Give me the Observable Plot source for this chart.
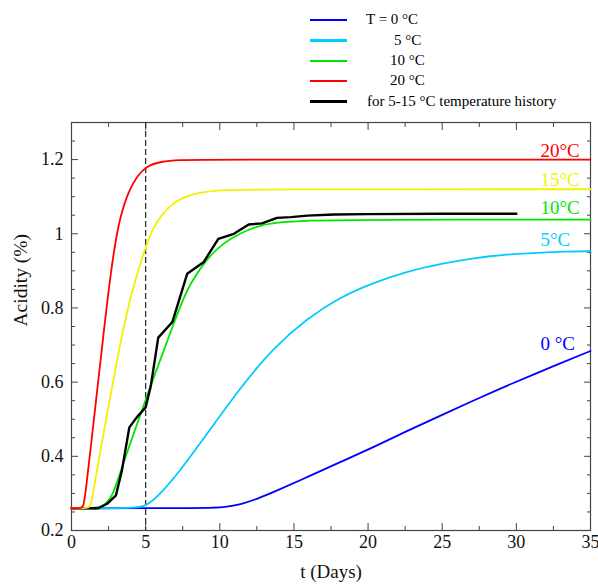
<!DOCTYPE html>
<html>
<head>
<meta charset="utf-8">
<script src="https://cdn.jsdelivr.net/npm/d3@7"></script>
<script src="https://cdn.jsdelivr.net/npm/@observablehq/plot@0.6"></script>
<style>
  body { margin: 0; background: #fff; }
  #wrap { width: 598px; height: 584px; position: relative; font-family: 'Liberation Serif', 'Times New Roman', serif; background: #fff; }
  #legend { position: relative; width: 598px; height: 112px; }
  .lg-line { position: absolute; left: 310px; width: 37px; height: 2.5px; }
  .lg-text { position: absolute; font-size: 15px; line-height: 16px; color: #000; white-space: nowrap; }
  #chart svg { display: block; }
</style>
</head>
<body>
<div id="wrap">
  <div id="legend"></div>
  <div id="chart"></div>
</div>
<script>
// ---------- data ----------
// T = 0 °C
const days0  = [0, 9.5, 10.3, 11.4, 12.5, 13.6, 15.9, 18.1, 20.4, 22.6, 24.9, 27.35, 29.8, 32.5, 35];
const acid0  = [0.26, 0.26, 0.263, 0.27, 0.285, 0.303, 0.344, 0.384, 0.425, 0.468, 0.51, 0.555, 0.598, 0.643, 0.684];
// T = 5 °C
const days5  = [0, 4.4, 5.1, 6.0, 7.35, 9.15, 11.4, 13.6, 15.9, 18.1, 20.4, 22.6, 24.9, 27, 29.2, 31.4, 33.5, 35];
const acid5  = [0.26, 0.26, 0.267, 0.299, 0.362, 0.461, 0.586, 0.692, 0.772, 0.829, 0.869, 0.898, 0.919, 0.934, 0.944, 0.949, 0.952, 0.953];
// T = 10 °C
const days10 = [0, 1.8, 2.3, 2.85, 3.3, 4.45, 5.15, 6.45, 7.0, 7.6, 8.0, 9.15, 10.3, 11.4, 12.5, 13.6, 15.9, 20, 35];
const acid10 = [0.26, 0.26, 0.27, 0.30, 0.36, 0.49, 0.57, 0.71, 0.77, 0.83, 0.865, 0.935, 0.977, 1.002, 1.02, 1.03, 1.036, 1.038, 1.038];
// T = 15 °C
const days15 = [0, 1.15, 1.3, 1.5, 1.75, 2.4, 3.1, 3.5, 3.9, 4.2, 4.6, 5.1, 5.5, 6.0, 6.7, 7.4, 8.5, 10, 12, 35];
const acid15 = [0.26, 0.26, 0.267, 0.31, 0.37, 0.515, 0.665, 0.745, 0.815, 0.86, 0.915, 0.975, 1.015, 1.047, 1.078, 1.096, 1.111, 1.118, 1.12, 1.12];
// T = 20 °C
const days20 = [0, 0.7, 0.8, 0.95, 1.4, 1.85, 2.15, 2.4, 2.85, 3.3, 3.85, 4.45, 5.05, 6.0, 7.3, 9, 35];
const acid20 = [0.26, 0.26, 0.265, 0.3, 0.46, 0.62, 0.725, 0.815, 0.955, 1.05, 1.115, 1.157, 1.182, 1.195, 1.199, 1.2, 1.2];
// 5-15 °C temperature history
const daysHist = [0, 1.8, 2.4, 3.0, 3.4, 3.9, 4.4, 5.0, 5.35, 5.85, 6.8, 7.8, 8.9, 9.9, 10.95, 11.95, 12.85, 13.85, 14.8, 15.9, 17.7, 20, 25, 30];
const acidHist = [0.26, 0.26, 0.272, 0.295, 0.362, 0.478, 0.505, 0.532, 0.59, 0.72, 0.762, 0.892, 0.923, 0.986, 1.0, 1.025, 1.028, 1.043, 1.045, 1.049, 1.052, 1.053, 1.054, 1.054];

const guideDay = [5];

const xTicks = [0, 5, 10, 15, 20, 25, 30, 35];
const xMinorTicks = [2.5, 7.5, 12.5, 17.5, 22.5, 27.5, 32.5];
const yTicks = [0.2, 0.4, 0.6, 0.8, 1, 1.2];
const yTickLabels = ["0.2", "0.4", "0.6", "0.8", "1", "1.2"];
const yMinorTicks = [0.25, 0.3, 0.35, 0.45, 0.5, 0.55, 0.65, 0.7, 0.75, 0.85, 0.9, 0.95, 1.05, 1.1, 1.15, 1.25];

const curveLabels = ["0 °C", "5°C", "10°C", "15°C", "20°C"];
const legendLabels = ["T = 0 °C", "5 °C", "10 °C", "20 °C", "for 5-15 °C temperature history"];

// ---------- styling ----------
const colors = {c0: "#0000ff", c5: "#00ccff", c10: "#00e600", c15: "#f2f200", c20: "#ff0000", hist: "#000000"};
const labelDy = [-7, -11, -12, -9, -9];

const toRows = (t, v) => t.map((d, i) => ({t: d, v: v[i]}));
const series = [
  {rows: toRows(days0, acid0), color: colors.c0, label: curveLabels[0], dy: labelDy[0]},
  {rows: toRows(days5, acid5), color: colors.c5, label: curveLabels[1], dy: labelDy[1]},
  {rows: toRows(days10, acid10), color: colors.c10, label: curveLabels[2], dy: labelDy[2]},
  {rows: toRows(days15, acid15), color: colors.c15, label: curveLabels[3], dy: labelDy[3]},
  {rows: toRows(days20, acid20), color: colors.c20, label: curveLabels[4], dy: labelDy[4]}
];
const histRows = toRows(daysHist, acidHist);

// ---------- legend (HTML above the SVG) ----------
const legendColors = [colors.c0, colors.c5, colors.c10, colors.c20, colors.hist];
const legendY = [20, 40.5, 61, 81, 101.5];
const legendTextX = [366, 394, 390, 390, 367];
const legend = document.getElementById("legend");
legendLabels.forEach((lab, i) => {
  const ln = document.createElement("div");
  ln.className = "lg-line";
  ln.style.top = (legendY[i] - 1.25) + "px";
  ln.style.background = legendColors[i];
  legend.appendChild(ln);
  const tx = document.createElement("div");
  tx.className = "lg-text";
  tx.style.left = legendTextX[i] + "px";
  tx.style.top = (legendY[i] - 9) + "px";
  tx.textContent = lab;
  legend.appendChild(tx);
});

// ---------- chart ----------
const tickColor = "#444";
const marks = [
  Plot.frame({stroke: tickColor, strokeWidth: 1.2}),
  // tick labels
  Plot.axisX({ticks: xTicks, tickSize: 0, tickPadding: 5, tickFormat: d => String(d), label: null, fontSize: 18, fill: "#111"}),
  Plot.axisY({ticks: yTicks, tickSize: 0, tickPadding: 8, tickFormat: d => yTickLabels[yTicks.indexOf(d)], label: null, fontSize: 18, fill: "#111"}),
  // inward ticks on all four sides
  Plot.axisX({ticks: xTicks, anchor: "bottom", tickSize: -7, fill: "none", label: null, stroke: tickColor}),
  Plot.axisX({ticks: xTicks, anchor: "top", tickSize: -7, fill: "none", label: null, stroke: tickColor}),
  Plot.axisX({ticks: xMinorTicks, anchor: "bottom", tickSize: -4, fill: "none", label: null, stroke: tickColor}),
  Plot.axisX({ticks: xMinorTicks, anchor: "top", tickSize: -4, fill: "none", label: null, stroke: tickColor}),
  Plot.axisY({ticks: yTicks, anchor: "left", tickSize: -7, fill: "none", label: null, stroke: tickColor}),
  Plot.axisY({ticks: yTicks, anchor: "right", tickSize: -7, fill: "none", label: null, stroke: tickColor}),
  Plot.axisY({ticks: yMinorTicks, anchor: "left", tickSize: -4, fill: "none", label: null, stroke: tickColor}),
  Plot.axisY({ticks: yMinorTicks, anchor: "right", tickSize: -4, fill: "none", label: null, stroke: tickColor}),
  // axis titles
  Plot.text(["t (Days)"], {frameAnchor: "bottom", dy: 41, text: d => d, fontSize: 19, fill: "#111", lineAnchor: "middle"}),
  Plot.text(["Acidity (%)"], {frameAnchor: "left", dx: -51, rotate: -90, text: d => d, fontSize: 19.5, fill: "#111", lineAnchor: "middle"}),
  // vertical guide at day 5
  Plot.ruleX(guideDay, {stroke: "#333", strokeWidth: 1.3, strokeDasharray: "6,3"})
];
// curves, drawn so the hotter curves sit on top of the shared baseline
[0, 1, 2].forEach(i => marks.push(Plot.line(series[i].rows, {x: "t", y: "v", stroke: series[i].color, strokeWidth: 1.8, curve: "basis"})));
marks.push(Plot.line(histRows, {x: "t", y: "v", stroke: colors.hist, strokeWidth: 2.4, curve: "linear", strokeLinejoin: "round"}));
[3, 4].forEach(i => marks.push(Plot.line(series[i].rows, {x: "t", y: "v", stroke: series[i].color, strokeWidth: 1.8, curve: "basis"})));
// end-of-curve labels
series.forEach(s => {
  const last = s.rows[s.rows.length - 1];
  marks.push(Plot.text([last], {x: "t", y: "v", text: () => s.label, fill: s.color, fontSize: 19, textAnchor: "start", dx: -50, dy: s.dy, lineAnchor: "middle"}));
});

const chart = Plot.plot({
  width: 598,
  height: 472,
  marginTop: 10,
  marginBottom: 54,
  marginLeft: 71,
  marginRight: 8,
  style: {fontFamily: "'Liberation Serif', 'Times New Roman', serif", fontSize: "18px", background: "#fff", color: "#111"},
  x: {domain: [0, 35]},
  y: {domain: [0.2, 1.3]},
  marks
});
document.getElementById("chart").appendChild(chart);
</script>
</body>
</html>
